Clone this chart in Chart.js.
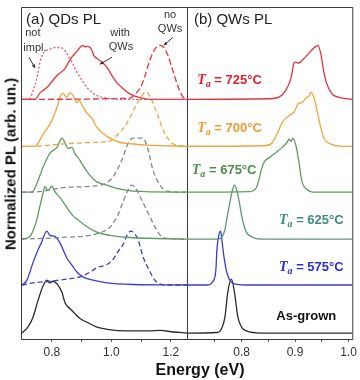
<!DOCTYPE html>
<html>
<head>
<meta charset="utf-8">
<script src="https://cdn.jsdelivr.net/npm/chart.js@4.4.1/dist/chart.umd.min.js"></script>
<style>
  html, body { margin: 0; padding: 0; background: #fff; }
  #wrap { position: relative; width: 360px; height: 380px; overflow: hidden; font-family: "Liberation Sans", Arial, sans-serif; }
  #qd { position: absolute; left: 0; top: 0; }
  #qw { position: absolute; left: 187px; top: 0; }
  .ytitle { position: absolute; left: 10px; top: 164px; transform: translate(-50%, -50%) rotate(-90deg); font-weight: bold; font-size: 15px; white-space: nowrap; color: #111; }
  .xtitle { position: absolute; left: 200px; top: 370px; transform: translate(-50%, -50%); font-weight: bold; font-size: 16px; white-space: nowrap; color: #111; }
</style>
</head>
<body>
<div id="wrap">
  <canvas id="qd" width="190" height="380"></canvas>
  <canvas id="qw" width="173" height="380"></canvas>
  <div class="ytitle">Normalized PL (arb. un.)</div>
  <div class="xtitle">Energy (eV)</div>
</div>
<script>
// vertical offsets of each spectrum (725, 700, 675, 625, 575 C, as-grown)
const offsets = [4.33, 3.46, 2.61, 1.74, 0.89, 0];

// (a) QD PL, energies in eV and normalized intensity
const qdE725 = [0.696, 0.743, 0.760, 0.783, 0.793, 0.817, 0.844, 0.850, 0.867, 0.887, 0.894, 0.904, 0.911, 0.918, 0.928, 0.934, 0.941, 0.951, 0.968, 0.985, 1.005, 1.018, 1.039, 1.062, 1.096, 1.129, 1.254];
const qdI725 = [0, 0, 0.12, 0.22, 0.28, 0.44, 0.57, 0.63, 0.78, 0.91, 0.96, 1.0, 0.97, 0.98, 0.96, 0.91, 0.81, 0.76, 0.69, 0.59, 0.41, 0.31, 0.2, 0.1, 0.03, 0, 0];
const qdENotImpl = [0.696, 0.726, 0.736, 0.750, 0.760, 0.770, 0.783, 0.800, 0.810, 0.827, 0.837, 0.850, 0.867, 0.884, 0.901, 0.921, 0.951, 0.985, 1.029, 1.254];
const qdINotImpl = [0, 0.02, 0.15, 0.41, 0.69, 0.85, 0.91, 0.94, 0.96, 0.96, 0.94, 0.85, 0.69, 0.5, 0.35, 0.2, 0.07, 0.02, 0, 0];
const qdE725NoQW = [0.696, 1.062, 1.079, 1.096, 1.113, 1.129, 1.146, 1.163, 1.176, 1.190, 1.203, 1.217, 1.230, 1.244, 1.254];
const qdI725NoQW = [0, 0.02, 0.1, 0.2, 0.44, 0.72, 0.93, 1.0, 0.96, 0.81, 0.59, 0.35, 0.15, 0.02, 0];

const qdE700 = [0.696, 0.743, 0.770, 0.800, 0.817, 0.827, 0.837, 0.850, 0.861, 0.871, 0.884, 0.891, 0.901, 0.918, 0.934, 0.951, 0.971, 0.995, 1.029, 1.062, 1.119, 1.254];
const qdI700 = [0, 0, 0.22, 0.48, 0.72, 0.91, 0.98, 0.91, 1.0, 0.94, 0.81, 0.85, 0.76, 0.61, 0.52, 0.35, 0.24, 0.15, 0.07, 0.05, 0.02, 0];
const qdE700NoQW = [0.696, 0.743, 0.827, 0.928, 0.995, 1.018, 1.035, 1.052, 1.066, 1.079, 1.093, 1.103, 1.113, 1.123, 1.136, 1.153, 1.170, 1.187, 1.203, 1.220, 1.254];
const qdI700NoQW = [0, 0, 0.04, 0.07, 0.1, 0.2, 0.3, 0.43, 0.58, 0.72, 0.86, 0.94, 1.0, 0.98, 0.85, 0.61, 0.35, 0.17, 0.06, 0.02, 0];

const qdE675 = [0.696, 0.733, 0.750, 0.770, 0.793, 0.817, 0.834, 0.844, 0.854, 0.867, 0.877, 0.894, 0.911, 0.928, 0.951, 0.985, 1.018, 1.072, 1.254];
const qdI675 = [0, 0, 0.17, 0.46, 0.72, 0.83, 1.0, 0.91, 0.81, 0.83, 0.72, 0.59, 0.44, 0.31, 0.19, 0.13, 0.07, 0.02, 0];
const qdE675NoQW = [0.696, 0.733, 0.850, 0.961, 1.005, 1.035, 1.055, 1.072, 1.106, 1.123, 1.139, 1.163, 1.187, 1.254];
const qdI675NoQW = [0, 0, 0.09, 0.13, 0.28, 0.6, 0.89, 1.0, 1.0, 0.79, 0.42, 0.13, 0.02, 0];

const qdE625 = [0.699, 0.726, 0.740, 0.750, 0.760, 0.770, 0.776, 0.787, 0.800, 0.810, 0.827, 0.850, 0.861, 0.871, 0.887, 0.918, 0.951, 0.995, 1.062, 1.254];
const qdI625 = [0, 0.05, 0.2, 0.38, 0.62, 0.85, 0.97, 0.9, 0.98, 0.88, 0.77, 0.59, 0.5, 0.43, 0.36, 0.23, 0.13, 0.07, 0.03, 0];
const qdE625NoQW = [0.699, 0.827, 0.951, 0.995, 1.012, 1.022, 1.039, 1.055, 1.069, 1.079, 1.096, 1.113, 1.129, 1.146, 1.163, 1.180, 1.254];
const qdI625NoQW = [0, 0.03, 0.1, 0.22, 0.35, 0.45, 0.69, 0.9, 1.0, 0.96, 0.79, 0.6, 0.42, 0.23, 0.08, 0.02, 0];

const qdE575 = [0.699, 0.716, 0.736, 0.753, 0.766, 0.776, 0.783, 0.793, 0.810, 0.827, 0.837, 0.850, 0.867, 0.884, 0.904, 0.938, 0.985, 1.072, 1.254];
const qdI575 = [0, 0.09, 0.41, 0.65, 0.8, 0.95, 1.0, 0.92, 0.9, 0.78, 0.66, 0.5, 0.37, 0.24, 0.15, 0.09, 0.04, 0.01, 0];
const qdE575NoQW = [0.699, 0.736, 0.793, 0.850, 0.894, 0.928, 0.951, 0.985, 1.005, 1.022, 1.039, 1.055, 1.066, 1.076, 1.089, 1.106, 1.129, 1.146, 1.156, 1.180, 1.254];
const qdI575NoQW = [0, 0.04, 0.07, 0.11, 0.15, 0.24, 0.32, 0.38, 0.47, 0.62, 0.75, 0.95, 1.0, 0.96, 0.85, 0.53, 0.25, 0.09, 0.04, 0, 0];

const qdEGrown = [0.699, 0.719, 0.736, 0.753, 0.770, 0.783, 0.793, 0.803, 0.817, 0.834, 0.844, 0.861, 0.877, 0.894, 0.918, 0.951, 0.985, 1.052, 1.129, 1.163, 1.207, 1.254];
const qdIGrown = [0, 0.11, 0.29, 0.6, 0.87, 0.98, 0.93, 0.96, 0.91, 0.75, 0.56, 0.45, 0.36, 0.27, 0.2, 0.11, 0.07, 0.04, 0.04, 0.05, 0.02, 0];

// (b) QW PL
const qwE725 = [0.698, 0.852, 0.870, 0.883, 0.893, 0.898, 0.902, 0.907, 0.913, 0.922, 0.931, 0.939, 0.943, 0.948, 0.954, 0.959, 0.969, 0.981, 1.007];
const qwI725 = [0, 0.01, 0.04, 0.17, 0.41, 0.67, 0.69, 0.67, 0.72, 0.81, 0.91, 0.98, 1.0, 0.85, 0.5, 0.3, 0.1, 0.04, 0];
const qwE700 = [0.698, 0.843, 0.857, 0.867, 0.876, 0.889, 0.898, 0.907, 0.913, 0.920, 0.926, 0.930, 0.935, 0.941, 0.948, 0.954, 0.967, 0.991, 1.007];
const qwI700 = [0, 0.01, 0.06, 0.24, 0.44, 0.57, 0.63, 0.8, 0.81, 0.89, 0.93, 1.0, 0.91, 0.67, 0.35, 0.15, 0.04, 0, 0];
const qwE675 = [0.698, 0.815, 0.828, 0.833, 0.837, 0.843, 0.852, 0.865, 0.876, 0.885, 0.889, 0.893, 0.896, 0.902, 0.907, 0.913, 0.922, 0.939, 1.007];
const qwI675 = [0, 0.01, 0.09, 0.25, 0.42, 0.57, 0.64, 0.74, 0.83, 0.92, 0.98, 0.94, 1.0, 0.85, 0.57, 0.2, 0.05, 0, 0];
const qwE625 = [0.698, 0.756, 0.765, 0.769, 0.772, 0.778, 0.783, 0.787, 0.791, 0.796, 0.802, 0.809, 0.819, 0.837, 1.007];
const qwI625 = [0, 0, 0.07, 0.18, 0.35, 0.67, 0.91, 1.0, 0.91, 0.67, 0.35, 0.13, 0.04, 0, 0];
const qwE575 = [0.698, 0.737, 0.746, 0.752, 0.754, 0.757, 0.761, 0.763, 0.767, 0.772, 0.778, 0.787, 0.806, 1.007];
const qwI575 = [0, 0, 0.06, 0.28, 0.66, 0.9, 1.0, 0.85, 0.53, 0.25, 0.09, 0.02, 0, 0];
const qwEGrown = [0.698, 0.754, 0.763, 0.769, 0.774, 0.781, 0.787, 0.793, 0.800, 0.809, 0.837, 1.007];
const qwIGrown = [0, 0.01, 0.09, 0.3, 0.74, 1.0, 0.74, 0.3, 0.11, 0.04, 0, 0];

// axis ticks
const qdTicks = [0.8, 0.9, 1.0, 1.1, 1.2];
const qdTickLabels = ['0.8', '', '1.0', '', '1.2'];
const qwTicks = [0.75, 0.8, 0.85, 0.9, 0.95, 1.0];
const qwTickLabels = ['', '0.8', '', '0.9', '', '1.0'];

const tempLabels = ['725', '700', '675', '625', '575'];

const RED = '#e3343d', ORANGE = '#f2a33c', GREEN = '#5e9c60', TEAL = '#5a967a', BLUE = '#3c3cd2', BLACK = '#2a2a2a', GREY = '#7f8a82';

function series(E, I, off, color, dash) {
  return {
    data: E.map((e, i) => ({ x: e, y: off + I[i] })),
    borderColor: color,
    borderWidth: 1.3,
    borderDash: dash || [],
    pointRadius: 0,
    cubicInterpolationMode: 'monotone',
    fill: false
  };
}

const SANS = '"Liberation Sans", Arial, sans-serif';
const SERIF = '"Liberation Serif", "Times New Roman", serif';

function taLabel(temp, x, y, color) {
  return { x, y, color, parts: [
    { t: 'T', font: 'italic bold 14px ' + SERIF },
    { t: 'a', font: 'italic bold 10px ' + SERIF, dy: 4 },
    { t: ' = ' + temp + '\u00B0C', font: 'bold 13px ' + SANS }
  ] };
}

function decor(notes, arrows, leftSide) {
  return {
    id: 'decor',
    afterDatasetsDraw(chart) {
      const { ctx, chartArea: a, scales } = chart;
      ctx.save();
      ctx.strokeStyle = '#3a3a3a';
      ctx.lineWidth = 1;
      ctx.beginPath();
      if (leftSide) {
        ctx.moveTo(a.right + 0.5, a.top + 0.5);
        ctx.lineTo(a.left + 0.5, a.top + 0.5);
        ctx.lineTo(a.left + 0.5, a.bottom + 0.5);
        ctx.lineTo(a.right + 0.5, a.bottom + 0.5);
        ctx.lineTo(a.right + 0.5, a.top + 0.5);
      } else {
        ctx.moveTo(a.left, a.top + 0.5);
        ctx.lineTo(a.right + 0.5, a.top + 0.5);
        ctx.lineTo(a.right + 0.5, a.bottom + 0.5);
        ctx.lineTo(a.left, a.bottom + 0.5);
      }
      ctx.stroke();

      ctx.textBaseline = 'middle';
      notes.forEach(n => {
        let px = scales.x.getPixelForValue(n.x);
        const py = scales.y.getPixelForValue(n.y);
        ctx.fillStyle = n.color || '#222';
        if (n.parts) {
          n.parts.forEach(p => {
            ctx.font = p.font;
            ctx.textAlign = 'left';
            ctx.fillText(p.t, px, py + (p.dy || 0));
            px += ctx.measureText(p.t).width;
          });
        } else {
          ctx.font = n.font;
          ctx.textAlign = n.align || 'center';
          ctx.fillText(n.t, px, py);
        }
      });

      ctx.strokeStyle = '#333';
      ctx.fillStyle = '#333';
      arrows.forEach(ar => {
        const x0 = scales.x.getPixelForValue(ar[0]), y0 = scales.y.getPixelForValue(ar[1]);
        const x1 = scales.x.getPixelForValue(ar[2]), y1 = scales.y.getPixelForValue(ar[3]);
        ctx.beginPath();
        ctx.moveTo(x0, y0);
        ctx.lineTo(x1, y1);
        ctx.stroke();
        const ang = Math.atan2(y1 - y0, x1 - x0);
        ctx.beginPath();
        ctx.moveTo(x1, y1);
        ctx.lineTo(x1 - 4 * Math.cos(ang - 0.45), y1 - 4 * Math.sin(ang - 0.45));
        ctx.lineTo(x1 - 4 * Math.cos(ang + 0.45), y1 - 4 * Math.sin(ang + 0.45));
        ctx.closePath();
        ctx.fill();
      });
      ctx.restore();
    }
  };
}

function xAxis(min, max, ticks, labels) {
  return {
    type: 'linear',
    min, max,
    afterBuildTicks: s => { s.ticks = ticks.map(v => ({ value: v })); },
    afterFit: s => { s.height = 41; },
    border: { display: false },
    grid: { drawOnChartArea: false, drawTicks: true, tickLength: 3, color: '#555' },
    ticks: {
      autoSkip: false, maxRotation: 0, padding: 3, color: '#333',
      font: { family: SANS, size: 12 },
      callback: (v, i) => labels[i]
    }
  };
}

const yAxis = { min: -0.11, max: 6.04, display: false };

const common = {
  responsive: false,
  animation: false,
  events: [],
  plugins: { legend: { display: false }, tooltip: { enabled: false } }
};

new Chart(document.getElementById('qd'), {
  type: 'line',
  data: {
    datasets: [
      series(qdENotImpl, qdINotImpl, offsets[0], '#e45a6c', [2, 2]),
      series(qdE725NoQW, qdI725NoQW, offsets[0], RED, [6, 3]),
      series(qdE725, qdI725, offsets[0], RED),
      series(qdE700NoQW, qdI700NoQW, offsets[1], ORANGE, [5, 3]),
      series(qdE700, qdI700, offsets[1], ORANGE),
      series(qdE675NoQW, qdI675NoQW, offsets[2], GREY, [5, 3]),
      series(qdE675, qdI675, offsets[2], GREEN),
      series(qdE625NoQW, qdI625NoQW, offsets[3], GREY, [5, 3]),
      series(qdE625, qdI625, offsets[3], GREEN),
      series(qdE575NoQW, qdI575NoQW, offsets[4], BLUE, [5, 3]),
      series(qdE575, qdI575, offsets[4], BLUE),
      series(qdEGrown, qdIGrown, offsets[5], BLACK)
    ]
  },
  options: {
    ...common,
    layout: { padding: { left: 21, right: 3, top: 7, bottom: 0 } },
    scales: { x: xAxis(0.696, 1.254, qdTicks, qdTickLabels), y: yAxis }
  },
  plugins: [decor([
    { t: '(a) QDs PL', x: 0.713, y: 5.80, font: '15px ' + SANS, align: 'left' },
    { t: 'not', x: 0.736, y: 5.56, font: '11px ' + SANS, color: '#333' },
    { t: 'impl.', x: 0.743, y: 5.28, font: '11px ' + SANS, color: '#333' },
    { t: 'with', x: 1.029, y: 5.56, font: '11px ' + SANS, color: '#333' },
    { t: 'QWs', x: 1.032, y: 5.30, font: '11px ' + SANS, color: '#333' },
    { t: 'no', x: 1.197, y: 5.89, font: '11px ' + SANS, color: '#333' },
    { t: 'QWs', x: 1.197, y: 5.63, font: '11px ' + SANS, color: '#333' }
  ], [
    [0.723, 5.11, 0.743, 4.91],
    [1.002, 5.11, 0.961, 4.98],
    [1.207, 5.48, 1.176, 5.33]
  ], true)]
});

new Chart(document.getElementById('qw'), {
  type: 'line',
  data: {
    datasets: [
      series(qwE725, qwI725, offsets[0], RED),
      series(qwE700, qwI700, offsets[1], ORANGE),
      series(qwE675, qwI675, offsets[2], GREEN),
      series(qwE625, qwI625, offsets[3], TEAL),
      series(qwE575, qwI575, offsets[4], BLUE),
      series(qwEGrown, qwIGrown, offsets[5], BLACK)
    ]
  },
  options: {
    ...common,
    layout: { padding: { left: 0, right: 6, top: 7, bottom: 0 } },
    scales: { x: xAxis(0.698, 1.007, qwTicks, qwTickLabels), y: yAxis }
  },
  plugins: [decor([
    { t: '(b) QWs PL', x: 0.711, y: 5.80, font: '15px ' + SANS, align: 'left' },
    taLabel(tempLabels[0], 0.717, 4.685, '#e2202c'),
    taLabel(tempLabels[1], 0.717, 3.796, '#f29a30'),
    taLabel(tempLabels[2], 0.707, 3.019, '#4f8c4c'),
    taLabel(tempLabels[3], 0.870, 2.093, '#408a80'),
    taLabel(tempLabels[4], 0.870, 1.222, '#2c2cd4'),
    { t: 'As-grown', x: 0.865, y: 0.315, font: 'bold 13px ' + SANS, align: 'left', color: '#111' }
  ], [], false)]
});
</script>
</body>
</html>
